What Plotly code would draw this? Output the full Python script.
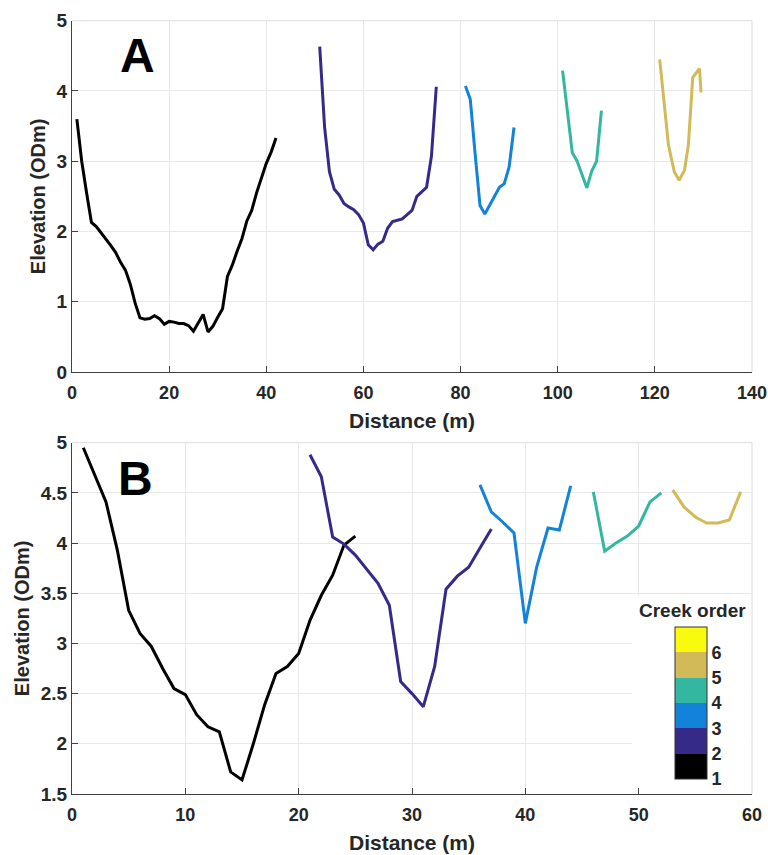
import plotly.graph_objects as go

# ---------------- data ----------------
CREEK_ORDERS = [1, 2, 3, 4, 5, 6]
CREEK_COLORS = ["#000000", "#352a87", "#1283d8", "#33b7a0", "#d3ba58", "#f9fb0e"]

# Panel A profiles (distance m, elevation ODm)
a1_x = list(range(1, 43))
a1_y = [3.6, 3.0, 2.55, 2.13, 2.07, 1.98, 1.9, 1.8, 1.7, 1.56, 1.45, 1.25, 0.98, 0.77,
        0.75, 0.76, 0.8, 0.76, 0.68, 0.72, 0.71, 0.69, 0.69, 0.66, 0.58, 0.7, 0.82, 0.57,
        0.65, 0.78, 0.9, 1.36, 1.52, 1.72, 1.9, 2.15, 2.3, 2.55, 2.75, 2.97, 3.13, 3.33]
a2_x = list(range(51, 76))
a2_y = [4.63, 3.49, 2.85, 2.6, 2.52, 2.4, 2.35, 2.31, 2.24, 2.12, 1.81, 1.74, 1.82, 1.86,
        2.05, 2.14, 2.16, 2.18, 2.24, 2.3, 2.5, 2.57, 2.63, 3.07, 4.06]
a3_x = list(range(81, 92))
a3_y = [4.07, 3.88, 3.1, 2.37, 2.25, 2.38, 2.52, 2.63, 2.68, 2.92, 3.48]
a4_x = list(range(101, 110))
a4_y = [4.29, 3.7, 3.12, 3.0, 2.82, 2.62, 2.86, 3.0, 3.72]
a5_x = [121, 122.8, 124, 125, 126.1, 126.9, 127.8, 129.2, 129.5]
a5_y = [4.45, 3.23, 2.85, 2.73, 2.87, 3.23, 4.19, 4.32, 3.98]

# Panel B profiles
b1_x = list(range(1, 26))
b1_y = [4.95, 4.68, 4.41, 3.93, 3.33, 3.1, 2.97, 2.75, 2.55, 2.49, 2.29, 2.17, 2.12,
        1.72, 1.64, 2.0, 2.39, 2.7, 2.77, 2.9, 3.23, 3.48, 3.68, 3.98, 4.07]
b2_x = list(range(21, 38))
b2_y = [4.88, 4.66, 4.06, 3.99, 3.88, 3.74, 3.6, 3.38, 2.62, 2.5, 2.37, 2.77, 3.54,
        3.67, 3.76, 3.95, 4.14]
b3_x = list(range(36, 45))
b3_y = [4.58, 4.31, 4.21, 4.1, 3.2, 3.76, 4.15, 4.13, 4.57]
b4_x = list(range(46, 53))
b4_y = [4.51, 3.92, 4.0, 4.07, 4.17, 4.41, 4.5]
b5_x = list(range(53, 60))
b5_y = [4.53, 4.36, 4.26, 4.2, 4.2, 4.23, 4.51]

A_XTICKS = [0, 20, 40, 60, 80, 100, 120, 140]
A_YTICKS = [0, 1, 2, 3, 4, 5]
B_XTICKS = [0, 10, 20, 30, 40, 50, 60]
B_YTICKS = [1.5, 2, 2.5, 3, 3.5, 4, 4.5, 5]

# ---------------- figure ----------------
W, H = 768, 855
FONT = "Liberation Sans, Arial, sans-serif"
TXT = "#262626"
GRID = "#e8e8e8"

fig = go.Figure()

panel_a = [(a1_x, a1_y, 0), (a2_x, a2_y, 1), (a3_x, a3_y, 2), (a4_x, a4_y, 3), (a5_x, a5_y, 4)]
panel_b = [(b1_x, b1_y, 0), (b2_x, b2_y, 1), (b3_x, b3_y, 2), (b4_x, b4_y, 3), (b5_x, b5_y, 4)]

for xs, ys, ci in panel_a:
    fig.add_trace(go.Scatter(x=xs, y=ys, mode="lines", xaxis="x", yaxis="y",
                             line=dict(color=CREEK_COLORS[ci], width=3), showlegend=False))
for xs, ys, ci in panel_b:
    fig.add_trace(go.Scatter(x=xs, y=ys, mode="lines", xaxis="x2", yaxis="y2",
                             line=dict(color=CREEK_COLORS[ci], width=3), showlegend=False))

# discrete colorbar
n = len(CREEK_COLORS)
cscale = []
for i, c in enumerate(CREEK_COLORS):
    cscale.append([i / n, c])
    cscale.append([(i + 1) / n, c])

cb_left, cb_top, cb_bottom, cb_w = 675, 627, 779, 32
fig.add_trace(go.Scatter(
    x=[None] * n, y=[None] * n, xaxis="x2", yaxis="y2", mode="markers", showlegend=False,
    marker=dict(color=CREEK_ORDERS, colorscale=cscale, cmin=1, cmax=7, showscale=True,
                colorbar=dict(
                    x=cb_left / W, xanchor="left", xpad=0,
                    y=1 - cb_bottom / H, yanchor="bottom", ypad=0,
                    len=cb_bottom - cb_top, lenmode="pixels",
                    thickness=cb_w, thicknessmode="pixels",
                    outlinecolor="#333333", outlinewidth=1,
                    tickvals=CREEK_ORDERS, ticktext=[str(v) for v in CREEK_ORDERS],
                    ticks="", ticklabelposition="outside",
                    tickfont=dict(family=FONT, size=18, color=TXT, weight="bold"),
                    bgcolor="rgba(0,0,0,0)", borderwidth=0,
                ))))

xdom = [72 / W, 752 / W]
ya_dom = [1 - 372 / H, 1 - 20.7 / H]
yb_dom = [1 - 794 / H, 1 - 442.7 / H]

def xax(rng, ticks, dom_y_anchor):
    return dict(domain=xdom, range=rng, tickvals=ticks, anchor=dom_y_anchor,
                showgrid=True, gridcolor=GRID, gridwidth=1, zeroline=False,
                showline=True, linecolor="#404040", linewidth=1,
                ticks="inside", ticklen=6, tickcolor="#404040",
                ticklabelstandoff=4,
                tickfont=dict(family=FONT, size=18, color=TXT, weight="bold"),
                title=dict(text="Distance (m)", standoff=11,
                           font=dict(family=FONT, size=21, color=TXT, weight="bold")),
                automargin=False)

def yax(rng, ticks, dom, anchor):
    return dict(domain=dom, range=rng, tickvals=ticks, anchor=anchor,
                showgrid=True, gridcolor=GRID, gridwidth=1, zeroline=False,
                showline=True, linecolor="#404040", linewidth=1,
                ticks="inside", ticklen=6, tickcolor="#404040",
                tickfont=dict(family=FONT, size=19, color=TXT, weight="bold"),
                title=dict(text="Elevation (ODm)", standoff=5,
                           font=dict(family=FONT, size=20, color=TXT, weight="bold")),
                automargin=False)

shapes = []
for xr, yr in (("x domain", "y domain"), ("x2 domain", "y2 domain")):
    shapes.append(dict(type="line", xref=xr, yref=yr, x0=0, x1=1, y0=1, y1=1,
                       line=dict(color="#dcdcdc", width=1), layer="below"))
    shapes.append(dict(type="line", xref=xr, yref=yr, x0=1, x1=1, y0=0, y1=1,
                       line=dict(color="#dcdcdc", width=1), layer="below"))
# white box behind the colorbar hiding gridlines (in panel B data coordinates)
shapes.append(dict(type="rect", xref="x2", yref="y2",
                   x0=49.4, x1=59.9, y0=1.52, y1=3.48,
                   fillcolor="white", line=dict(width=0), layer="between"))

annotations = [
    dict(text="<b>A</b>", xref="paper", yref="paper", x=137 / W, y=1 - 55 / H,
         xanchor="center", yanchor="middle", showarrow=False,
         font=dict(family=FONT, size=48, color="#000000")),
    dict(text="<b>B</b>", xref="paper", yref="paper", x=135 / W, y=1 - 478 / H,
         xanchor="center", yanchor="middle", showarrow=False,
         font=dict(family=FONT, size=48, color="#000000")),
    dict(text="<b>Creek order</b>", xref="paper", yref="paper", x=692 / W, y=1 - 610 / H,
         xanchor="center", yanchor="middle", showarrow=False,
         font=dict(family=FONT, size=19, color=TXT)),
]

fig.update_layout(
    width=W, height=H, margin=dict(l=0, r=0, t=0, b=0),
    paper_bgcolor="white", plot_bgcolor="white",
    xaxis=xax([0, 140], A_XTICKS, "y"),
    yaxis=yax([0, 5], A_YTICKS, ya_dom, "x"),
    xaxis2=xax([0, 60], B_XTICKS, "y2"),
    yaxis2=yax([1.5, 5], B_YTICKS, yb_dom, "x2"),
    shapes=shapes, annotations=annotations, showlegend=False,
)

fig.write_html("out.html", config={"displayModeBar": False},
               post_script="document.body.style.margin='0px';")
